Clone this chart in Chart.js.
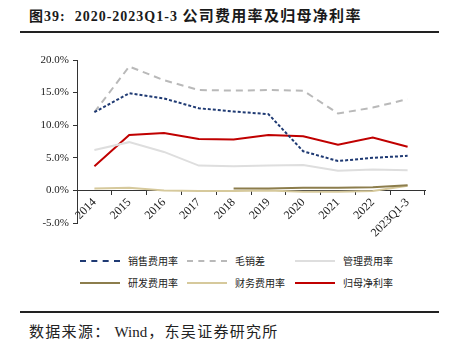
<!DOCTYPE html>
<html>
<head>
<meta charset="utf-8">
<script src="https://cdn.jsdelivr.net/npm/chart.js@4/dist/chart.umd.min.js"></script>
<style>
  body { margin: 0; background: #fff; width: 452px; height: 348px; overflow: hidden; position: relative; }
  #title { position: absolute; left: 29px; top: 4px; font: bold 14px "Liberation Serif", "Noto Sans CJK SC", serif; color: #1a1a1a; letter-spacing: 1px; white-space: nowrap; }
  #title .cjk { font-family: "Noto Sans CJK SC"; font-weight: bold; font-size: 15px; letter-spacing: 1.3px; }
  .rule { position: absolute; left: 20px; width: 419px; height: 2px; background: #222; }
  #wrap { position: absolute; left: 0; top: 40px; width: 452px; height: 210px; }
  #legend { position: absolute; left: 0; top: 253px; width: 452px; }
  .item { position: absolute; font: 10px "Noto Sans CJK SC", sans-serif; color: #222; white-space: nowrap; }
  .item i { display: inline-block; width: 40px; height: 0; vertical-align: middle; margin-right: 8px; margin-top: -2px; }
  #source { position: absolute; left: 29px; top: 320px; font: 15px "Noto Sans CJK SC", "Liberation Serif", serif; color: #222; white-space: nowrap; letter-spacing: 1.3px; }
  #source .en { font-family: "Liberation Serif", serif; font-size: 15px; letter-spacing: 0; margin: 0 1px 0 4px; }
</style>
</head>
<body>
<div id="title">图39:&nbsp; 2020-2023Q1-3 <span class="cjk">公司费用率及归母净利率</span></div>
<div class="rule" style="top:31px"></div>
<div id="wrap"><canvas id="c" width="452" height="210"></canvas></div>
<div id="legend"></div>
<div class="rule" style="top:311px"></div>
<div id="source">数据来源：<span class="en">Wind</span>，东吴证券研究所</div>
<script>
const years = ['2014', '2015', '2016', '2017', '2018', '2019', '2020', '2021', '2022', '2023Q1-3'];
const yTicks = [-5, 0, 5, 10, 15, 20];

// 单位 %
const salesRate = [12.0, 14.9, 14.1, 12.6, 12.1, 11.7, 6.0, 4.5, 5.0, 5.3];
const grossGap = [12.0, 19.0, 16.9, 15.4, 15.3, 15.4, 15.3, 11.8, 12.7, 14.0];
const adminRate = [6.2, 7.4, 5.9, 3.8, 3.7, 3.8, 3.9, 3.0, 3.2, 3.1];
const rdRate = [null, null, null, null, 0.3, 0.3, 0.4, 0.4, 0.5, 0.8];
const finRate = [0.3, 0.4, 0.0, -0.1, -0.1, 0.0, -0.2, -0.2, -0.1, 0.7];
const netMargin = [3.7, 8.5, 8.8, 7.9, 7.8, 8.5, 8.3, 7.0, 8.1, 6.7];

const series = [
  { label: '销售费用率', data: salesRate, color: '#1f3a73', dash: [3, 2], css: 'dashed' },
  { label: '毛销差', data: grossGap, color: '#b9b9b9', dash: [7, 5], css: 'dashed' },
  { label: '管理费用率', data: adminRate, color: '#dedede', dash: [], css: 'solid' },
  { label: '研发费用率', data: rdRate, color: '#8c7d4c', dash: [], css: 'solid' },
  { label: '财务费用率', data: finRate, color: '#d6c99c', dash: [], css: 'solid' },
  { label: '归母净利率', data: netMargin, color: '#c00000', dash: [], css: 'solid' }
];

// legend (html)
const legPos = [[80, 0], [187, 0], [295, 0], [80, 22], [187, 22], [295, 22]];
const el = (id) => document.getElementById(id);
el('legend').innerHTML = series.map((s, i) => {
  const [x, y] = legPos[i];
  const border = s.css === 'dashed'
    ? `border-top:2px dashed ${s.color}`
    : `border-top:2px solid ${s.color}`;
  return `<div class="item" style="left:${x}px;top:${y}px"><i style="${border}"></i>${s.label}</div>`;
}).join('');

const serif = '"Liberation Serif", "Times New Roman", serif';

new Chart(el('c'), {
  type: 'line',
  data: {
    labels: years,
    datasets: series.map(s => ({
      label: s.label,
      data: s.data,
      borderColor: s.color,
      backgroundColor: s.color,
      borderDash: s.dash,
      borderWidth: 2,
      pointRadius: 0,
      tension: 0,
      spanGaps: false
    }))
  },
  options: {
    responsive: false,
    animation: false,
    maintainAspectRatio: false,
    layout: { padding: { left: 0, right: 27, top: 20, bottom: 27 } },
    plugins: { legend: { display: false }, tooltip: { enabled: false } },
    scales: {
      x: {
        position: { y: 0 },
        offset: true,
        grid: { offset: true, drawOnChartArea: false, tickLength: 4, color: '#333' },
        border: { color: '#333', width: 1 },
        ticks: { font: { family: serif, size: 12 }, color: '#222', minRotation: 45, maxRotation: 45, padding: 1, autoSkip: false }
      },
      y: {
        min: -5, max: 20,
        afterFit: (s) => { s.width = 77; },
        afterBuildTicks: (s) => { s.ticks = yTicks.map(v => ({ value: v })); },
        grid: { drawOnChartArea: false, tickLength: 4, color: '#333' },
        border: { color: '#333', width: 1 },
        ticks: { font: { family: serif, size: 11 }, color: '#222', padding: 4, autoSkip: false, callback: (v) => v.toFixed(1) + '%' }
      }
    }
  }
});
</script>
</body>
</html>
